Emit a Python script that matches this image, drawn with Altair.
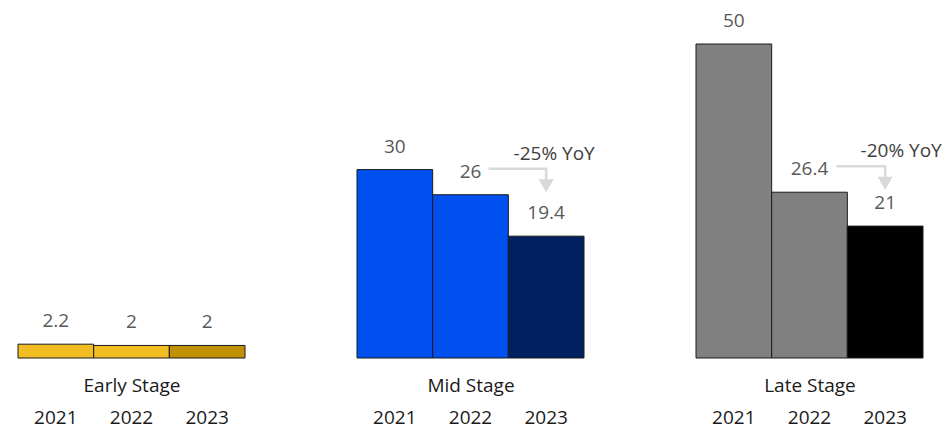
import altair as alt
import pandas as pd

# ---- data ----
stages = ["Early Stage", "Mid Stage", "Late Stage"]
years = ["2021", "2022", "2023"]
early_values = [2.2, 2, 2]
mid_values = [30, 26, 19.4]
late_values = [50, 26.4, 21]
early_labels = ["2.2", "2", "2"]
mid_labels = ["30", "26", "19.4"]
late_labels = ["50", "26.4", "21"]
yoy_labels = [None, "-25% YoY", "-20% YoY"]

values = [early_values, mid_values, late_values]
labels = [early_labels, mid_labels, late_labels]

# ---- styles ----
palette = [
    ["#F1BD22", "#F1BD22", "#BF9000"],
    ["#0050EF", "#0050EF", "#002060"],
    ["#808080", "#808080", "#000000"],
]
FONT = "Open Sans"
FS = 19
arrow_start_offset = {1: 18, 2: 27}
yoy_text_offset = {1: 8, 2: 16}
ARROW = "#D9D9D9"


def xenc(field, stage):
    return alt.X(
        f"{field}:N",
        sort=years,
        scale=alt.Scale(domain=years, paddingInner=0, paddingOuter=0),
        axis=alt.Axis(
            title=stage,
            domain=False,
            ticks=False,
            labelAngle=0,
            labelFont=FONT,
            labelFontSize=FS,
            labelColor="#1a1a1a",
            labelBaseline="alphabetic",
            labelPadding=65,
            titleFont=FONT,
            titleFontSize=FS,
            titleFontWeight="normal",
            titleColor="#1a1a1a",
            titleBaseline="alphabetic",
            titleY=33,
        ),
    )


yenc = alt.Y("value:Q", scale=alt.Scale(domain=[0, 50], nice=False, zero=True), axis=None)

panels = []
for i, stage in enumerate(stages):
    df = pd.DataFrame(
        {"year": years, "value": values[i], "label": labels[i], "color": palette[i]}
    )
    bars = alt.Chart(df).mark_bar(stroke="#1a1a1a", strokeWidth=1).encode(
        x=xenc("year", stage),
        y=yenc,
        color=alt.Color("color:N", scale=None),
    )
    text = alt.Chart(df).mark_text(
        baseline="alphabetic", dy=-17, font=FONT, fontSize=FS, color="#595959"
    ).encode(x=xenc("year", stage), y=yenc, text="label:N")
    layers = [bars, text]
    if yoy_labels[i]:
        adf = pd.DataFrame(
            {"year": ["2022"], "year2": ["2023"], "value": [values[i][1]], "text": [yoy_labels[i]]}
        )
        hline = alt.Chart(adf).mark_rule(
            color=ARROW, strokeWidth=2.5, xOffset=arrow_start_offset[i], yOffset=-26
        ).encode(x=xenc("year", stage), x2="year2:N", y=yenc)
        vline = alt.Chart(adf).mark_rule(
            color=ARROW, strokeWidth=2.5, yOffset=-27, y2Offset=-12
        ).encode(x=xenc("year2", stage), y=yenc, y2="value:Q")
        head = alt.Chart(adf).mark_point(
            shape="triangle-down", filled=True, size=230, color=ARROW, opacity=1, yOffset=-9
        ).encode(x=xenc("year2", stage), y=yenc)
        yoy = alt.Chart(adf).mark_text(
            baseline="alphabetic", align="center", font=FONT, fontSize=FS,
            color="#404040", xOffset=yoy_text_offset[i], yOffset=-35,
        ).encode(x=xenc("year2", stage), y=yenc, text="text:N")
        layers += [hline, vline, head, yoy]
    panels.append(alt.layer(*layers).properties(width=227, height=314))

chart = (
    alt.hconcat(*panels, spacing=112, bounds="flush")
    .properties(padding={"left": 17, "top": 12, "right": 0, "bottom": 0}, background="white")
    .configure_view(stroke=None)
)

chart.save("out.html", embed_options={"renderer": "svg", "actions": False})
